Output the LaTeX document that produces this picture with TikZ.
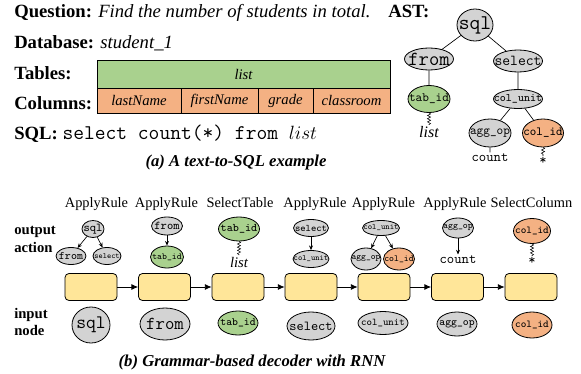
\documentclass[tikz,border=0pt]{standalone}
\usepackage{fontspec}
\setmainfont{Liberation Serif}
\usetikzlibrary{positioning,arrows.meta,shapes.geometric,decorations.pathmorphing}
\definecolor{astgray}{HTML}{D3D3D3}
\definecolor{tabgreen}{HTML}{A9D18E}
\definecolor{colorange}{HTML}{F4B183}
\definecolor{rnnyellow}{HTML}{FFE699}
\newcommand{\tfs}[1]{\fontsize{#1}{#1}\selectfont\ttfamily}
\newcommand{\rfs}[1]{\fontsize{#1}{#1}\selectfont}
\newcommand{\zw}[1]{\makebox[0pt]{#1}}
\tikzset{
  el/.style args={#1/#2}{ellipse, draw, line width=0.6pt, fill=astgray, inner sep=0pt,
    minimum width=#1*0.75pt, minimum height=#2*0.75pt},
  tabcell/.style args={#1/#2}{rectangle, draw, line width=0.6pt, inner sep=0pt,
    minimum width=#1*0.75pt, minimum height=#2*0.75pt, font=\rfs{11}\itshape},
  rnn/.style={rectangle, rounded corners=3pt, draw, line width=0.6pt, fill=rnnyellow,
    minimum width=52*0.75pt, minimum height=27*0.75pt},
  head/.style={font=\rfs{14}\bfseries, inner sep=0pt, anchor=base west},
  rowlbl/.style={font=\rfs{11}\bfseries, inner sep=0pt, anchor=base west},
  wiggle/.style={decorate, decoration={snake, amplitude=1.2pt, segment length=2.4pt}},
  tip/.style={-{Stealth[length=3.5pt,width=3pt]}, line width=0.5pt},
  bigtip/.style={-{Latex[length=5pt,width=4.5pt]}, line width=0.6pt},
}
\begin{document}
\begin{tikzpicture}[x=0.75pt,y=-0.75pt]
  \useasboundingbox (0,0) rectangle (581,374);
  % (a) text-to-SQL example
  \node[head] (qst) at (14,18) {Question: \mdseries\itshape Find the number of students in total.};
  \node[head] (db) at (14,49) {Database: \mdseries\itshape student\_1};
  \node[head] (tbls) at (14,80) {Tables:};
  \node[head] (cols) at (14,110) {Columns:};
  \node[tabcell=293/28, fill=tabgreen] (tlist) at (243.5,74) {list};
  \node[tabcell=84/25, fill=colorange] (clast) at (139,100.5) {lastName};
  \node[tabcell=77/25, fill=colorange] (cfirst) at (219.5,100.5) {firstName};
  \node[tabcell=55/25, fill=colorange] (cgrade) at (285.5,100.5) {grade};
  \node[tabcell=77/25, fill=colorange] (cclass) at (351.5,100.5) {classroom};
  \node[head] (sqlq) at (14,140) {SQL: {\mdseries\tfs{15.7}select count(*) from }$list$};
  \node[font=\rfs{12.5}\bfseries\itshape] (capa) at (236,162) {(a) A text-to-SQL example};
  % AST
  \node[head] (astl) at (388,18) {AST:};
  \node[el=36/32, font=\tfs{15.7}] (sql) at (475,25) {\zw{sql}};
  \node[el=49/22, font=\tfs{15}] (from) at (429,59) {\zw{from}};
  \node[el=49/22, font=\tfs{11.4}] (select) at (518,61) {\zw{select}};
  \node[el=42/27, fill=tabgreen, font=\tfs{9.5}] (tabid) at (429,99) {\zw{tab\_id}};
  \node[el=49/19, font=\tfs{8.6}] (colunit) at (518,99) {\zw{col\_unit}};
  \node[el=42/28, font=\tfs{9.5}] (aggop) at (490,133) {\zw{agg\_op}};
  \node[el=41/28, fill=colorange, font=\tfs{9.3}] (colid) at (543,133) {\zw{col\_id}};
  \node[font=\rfs{12}\itshape, inner sep=1pt] (astlist) at (429,132) {list};
  \node[font=\tfs{10.5}, inner sep=1pt] (astcount) at (490,158) {count};
  \node[font=\tfs{10.5}, inner sep=1pt] (aststar) at (543,161) {*};
  \draw[line width=0.5pt] (sql) -- (from) (sql) -- (select) (from) -- (tabid)
    (select) -- (colunit) (colunit) -- (aggop) (colunit) -- (colid)
    (aggop) -- (astcount);
  \draw[wiggle] (tabid.south) -- (astlist.north);
  \draw[wiggle] (colid.south) -- (aststar.north);

  % (b) grammar-based decoder
  \node[rowlbl] (outl) at (14,234) {output};
  \node[rowlbl] (actl) at (14,252) {action};
  \node[rowlbl] (inl) at (14,318) {input};
  \node[rowlbl] (ndl) at (14,335) {node};
  \foreach \i/\x/\lx/\t in {1/91/96.5/ApplyRule,2/164.5/166.5/ApplyRule,3/238/240/SelectTable,
      4/311/315/ApplyRule,5/384/383.5/ApplyRule,6/457.5/455/ApplyRule,7/531/531.5/SelectColumn}{
    \node[rnn] (b\i) at (\x,287) {};
    \node[font=\rfs{10.8}, inner sep=0pt, anchor=base] (act\i) at (\lx,207.5) {\t};
  }
  \foreach \i [count=\j from 2] in {1,...,6}
    \draw[bigtip] (b\i) -- (b\j);
  % output actions
  \node[el=22/17, font=\tfs{9}] (o1a) at (93,229) {\zw{sql}};
  \node[el=30/17, font=\tfs{8.6}] (o1b) at (71,256) {\zw{from}};
  \node[el=28/17, font=\tfs{6}] (o1c) at (107,256) {\zw{select}};
  \draw[tip] (o1a) -- (o1b);
  \draw[tip] (o1a) -- (o1c);
  \node[el=31/18, font=\tfs{9}] (o2a) at (167,226) {\zw{from}};
  \node[el=33/22, fill=tabgreen, font=\tfs{6.9}] (o2b) at (167,257) {\zw{tab\_id}};
  \draw[tip] (o2a) -- (o2b);
  \node[el=41/24, fill=tabgreen, font=\tfs{8.7}] (o3a) at (239,229) {\zw{tab\_id}};
  \node[font=\rfs{11}\itshape, inner sep=1pt] (o3b) at (239,262) {list};
  \draw[wiggle] (o3a.south) -- (o3b.north);
  \node[el=35/17, font=\tfs{7.5}] (o4a) at (311,228) {\zw{select}};
  \node[el=36/17, font=\tfs{6.1}] (o4b) at (311,259) {\zw{col\_unit}};
  \draw[tip] (o4a) -- (o4b);
  \node[el=37/15, font=\tfs{6.2}] (o5a) at (381,228) {\zw{col\_unit}};
  \node[el=30/22, font=\tfs{6.8}] (o5b) at (366,259) {\zw{agg\_op}};
  \node[el=31/22, fill=colorange, font=\tfs{6.9}] (o5c) at (399,259) {\zw{col\_id}};
  \draw[tip] (o5a) -- (o5b);
  \draw[tip] (o5a) -- (o5c);
  \node[el=31/20, font=\tfs{7}] (o6a) at (458,228) {\zw{agg\_op}};
  \node[font=\tfs{10.5}, inner sep=1pt] (o6b) at (458,260) {count};
  \draw[tip] (o6a) -- (o6b);
  \node[el=37/25, fill=colorange, font=\tfs{7.9}] (o7a) at (532,231) {\zw{col\_id}};
  \node[font=\tfs{10.5}, inner sep=1pt] (o7b) at (532,261) {*};
  \draw[wiggle] (o7a.south) -- (o7b.north);
  % input nodes
  \node[el=38/36, font=\tfs{14.3}] (i1) at (91,325) {\zw{sql}};
  \node[el=50/32, font=\tfs{13.7}] (i2) at (165,324) {\zw{from}};
  \node[el=40/24, fill=tabgreen, font=\tfs{8.3}] (i3) at (238,323) {\zw{tab\_id}};
  \node[el=48/28, font=\tfs{10.3}] (i4) at (311,326) {\zw{select}};
  \node[el=50/23, font=\tfs{7.7}] (i5) at (383,323) {\zw{col\_unit}};
  \node[el=40/24, font=\tfs{8.3}] (i6) at (457,324) {\zw{agg\_op}};
  \node[el=40/26, fill=colorange, font=\tfs{7.9}] (i7) at (532,325) {\zw{col\_id}};
  \node[font=\rfs{12.5}\bfseries\itshape] (capb) at (252,362) {(b) Grammar-based decoder with RNN};
\end{tikzpicture}
\end{document}
